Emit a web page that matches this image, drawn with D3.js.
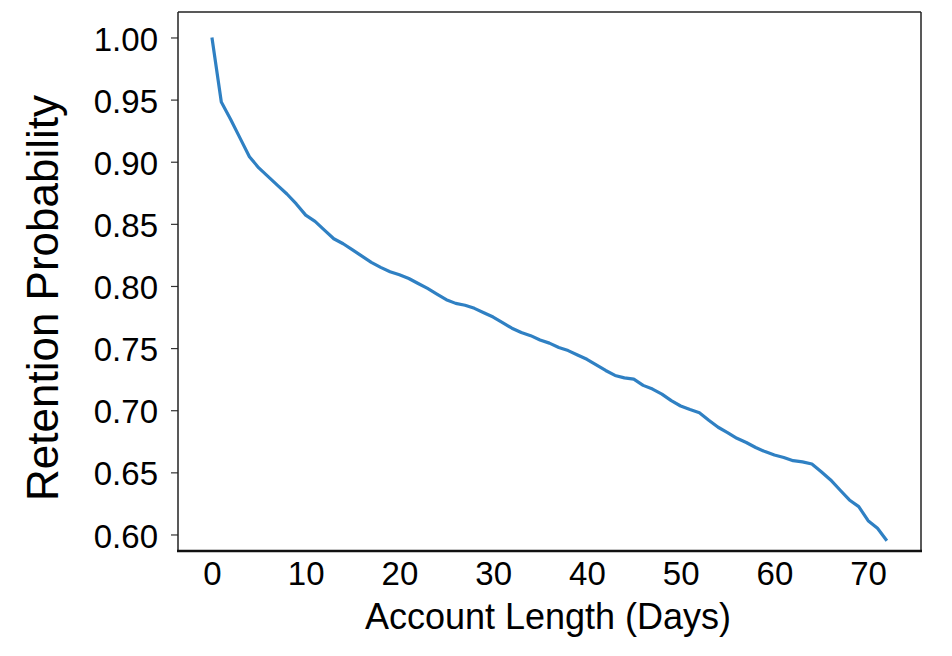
<!DOCTYPE html>
<html>
<head>
<meta charset="utf-8">
<script src="https://cdn.jsdelivr.net/npm/d3@7/dist/d3.min.js"></script>
<style>
  html, body { margin: 0; padding: 0; background: #fff; }
  svg { display: block; }
  text { font-family: "Liberation Sans", Arial, sans-serif; fill: #000; }
</style>
</head>
<body>
<svg id="chart" width="952" height="656"></svg>
<script>
// Data: days since account creation and retention probability
const days = d3.range(0, 73);
const retention = [
  1.000, 0.948, 0.934, 0.919, 0.904, 0.895, 0.888, 0.881, 0.874, 0.866,
  0.857, 0.852, 0.845, 0.838, 0.834, 0.829, 0.824, 0.819, 0.815, 0.8115,
  0.809, 0.806, 0.802, 0.798, 0.7935, 0.789, 0.786, 0.7845, 0.782, 0.7785,
  0.775, 0.7705, 0.766, 0.7625, 0.760, 0.7565, 0.754, 0.7505, 0.748, 0.7445,
  0.741, 0.7365, 0.732, 0.728, 0.726, 0.725, 0.720, 0.717, 0.713, 0.7077,
  0.7034, 0.7005, 0.698, 0.692, 0.6863, 0.682, 0.6774, 0.674, 0.670, 0.6667,
  0.664, 0.662, 0.6594, 0.6584, 0.6567, 0.6505, 0.6439, 0.6358, 0.6278, 0.6224,
  0.6111, 0.605, 0.595
];
const xTicks = [0, 10, 20, 30, 40, 50, 60, 70];
const yTicks = [0.60, 0.65, 0.70, 0.75, 0.80, 0.85, 0.90, 0.95, 1.00];

const svg = d3.select("#chart");
const pLeft = 178, pRight = 921, pTop = 12, pBottom = 551;

const x = d3.scaleLinear().domain([-3.62, 75.64]).range([pLeft, pRight]);
const y = d3.scaleLinear().domain([0.5867, 1.0205]).range([pBottom, pTop]);

// Y axis
const yAxis = svg.append("g")
  .attr("transform", `translate(${pLeft},0)`)
  .call(d3.axisLeft(y).tickValues(yTicks).tickFormat(d3.format(".2f")).tickSize(7).tickPadding(13));
yAxis.select(".domain").remove();
yAxis.selectAll(".tick line").attr("stroke", "#333").attr("stroke-width", 1.2);
yAxis.selectAll(".tick text").attr("font-size", 33).attr("dy", "0.38em")
  .style("font-family", "'Liberation Sans', Arial, sans-serif");

// X axis (labels only)
const xAxis = svg.append("g")
  .attr("transform", `translate(0,${pBottom})`)
  .call(d3.axisBottom(x).tickValues(xTicks).tickFormat(d3.format("d")).tickSize(0).tickPadding(11));
xAxis.select(".domain").remove();
xAxis.selectAll(".tick text").attr("font-size", 33)
  .style("font-family", "'Liberation Sans', Arial, sans-serif");

// Frame
svg.append("line").attr("x1", pLeft).attr("x2", pRight).attr("y1", pTop).attr("y2", pTop)
  .attr("stroke", "#222").attr("stroke-width", 1.5);
svg.append("line").attr("x1", pRight).attr("x2", pRight).attr("y1", pTop).attr("y2", pBottom)
  .attr("stroke", "#222").attr("stroke-width", 1.5);
svg.append("line").attr("x1", pLeft).attr("x2", pLeft).attr("y1", pTop).attr("y2", pBottom)
  .attr("stroke", "#222").attr("stroke-width", 1.5);
svg.append("line").attr("x1", pLeft - 1).attr("x2", pRight + 1).attr("y1", pBottom).attr("y2", pBottom)
  .attr("stroke", "#111").attr("stroke-width", 2.7);

// Line
const line = d3.line().x((d, i) => x(days[i])).y(d => y(d));
svg.append("path")
  .datum(retention)
  .attr("fill", "none")
  .attr("stroke", "#2f80c3")
  .attr("stroke-width", 3.2)
  .attr("stroke-linejoin", "round")
  .attr("d", line);

// Axis titles
svg.append("text")
  .attr("x", 548).attr("y", 629)
  .attr("text-anchor", "middle")
  .attr("font-size", 36)
  .text("Account Length (Days)");

svg.append("text")
  .attr("transform", "translate(58,298) rotate(-90)")
  .attr("text-anchor", "middle")
  .attr("font-size", 44)
  .text("Retention Probability");
</script>
</body>
</html>
